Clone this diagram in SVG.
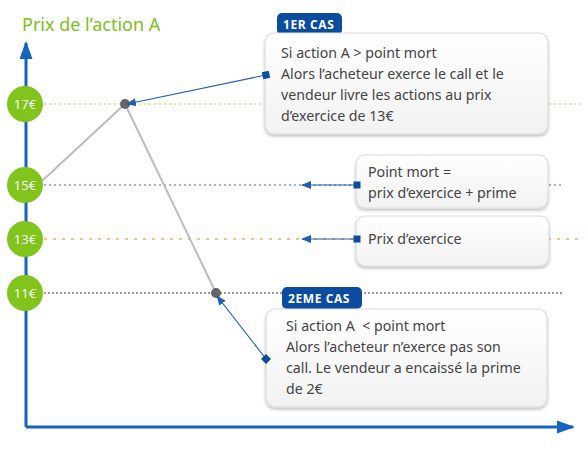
<svg xmlns="http://www.w3.org/2000/svg" width="586" height="455" viewBox="0 0 586 455">
  <style>
    .txt { font-family: "Noto Sans", "Open Sans", sans-serif; font-size: 14.2px; fill: #444; }
    .tab { fill: #0b4c9e; }
    .tabtxt { font-family: "Open Sans", "Noto Sans", sans-serif; font-size: 12px; font-weight: bold; fill: #fff; letter-spacing: 0.6px; }
    .box { fill: url(#boxfill); stroke: #dcdcdc; stroke-width: 1.2; filter: url(#shadow); }
    .lvl { fill: #80c41c; }
    .lvltxt { font-family: "Open Sans", "Noto Sans", sans-serif; font-size: 13px; fill: #fff; text-anchor: middle; }
    .conn { stroke: #1f5fb0; stroke-width: 1.2; fill: none; }
    .curve { stroke: #bdbdbd; stroke-width: 2; fill: none; }
  </style>
  <defs>
    <linearGradient id="boxfill" x1="0" y1="0" x2="0" y2="1">
      <stop offset="0" stop-color="#ffffff"/>
      <stop offset="1" stop-color="#f2f2f2"/>
    </linearGradient>
    <filter id="shadow" x="-5%" y="-10%" width="110%" height="125%">
      <feGaussianBlur in="SourceAlpha" stdDeviation="1.5"/>
      <feOffset dx="0" dy="1.5" result="b"/>
      <feComponentTransfer><feFuncA type="linear" slope="0.25"/></feComponentTransfer>
      <feMerge><feMergeNode/><feMergeNode in="SourceGraphic"/></feMerge>
    </filter>
    <marker id="tip" markerWidth="10" markerHeight="8" refX="9" refY="4" orient="auto" markerUnits="userSpaceOnUse">
      <path d="M0,0 L10,4 L0,8 z" fill="#1f5fb0"/>
    </marker>
    <marker id="sq" markerWidth="8" markerHeight="8" refX="4" refY="4" orient="auto" markerUnits="userSpaceOnUse">
      <rect x="0.5" y="0.5" width="7" height="7" fill="#0b4c9e"/>
    </marker>
    <marker id="dia" markerWidth="10" markerHeight="10" refX="5" refY="5" orient="0" markerUnits="userSpaceOnUse">
      <path d="M5,0 L10,5 L5,10 L0,5 z" fill="#0b4c9e"/>
    </marker>
    <marker id="axisTip" markerWidth="18" markerHeight="13" refX="16" refY="6.5" orient="auto" markerUnits="userSpaceOnUse">
      <path d="M0,0 L18,6.5 L0,13 z" fill="#1565c0"/>
    </marker>
  </defs>

  <!-- axis title -->
  <text x="22" y="31" font-family="'Noto Sans', 'Open Sans', sans-serif" font-size="18" fill="#7cc11c">Prix de l’action A</text>

  <!-- price level guide lines -->
  <g id="guides" stroke-width="2" fill="none">
    <line x1="44" y1="104" x2="582" y2="104" stroke="#d6e89a" stroke-dasharray="2 3"/>
    <line x1="44" y1="185" x2="564" y2="185" stroke="#9bb8d6" stroke-dasharray="2 3"/>
    <line x1="44" y1="239" x2="578" y2="239" stroke="#f7c27a" stroke-dasharray="3 6"/>
    <line x1="44" y1="293" x2="564" y2="293" stroke="#9a9a9a" stroke-dasharray="2 2"/>
  </g>

  <!-- axes -->
  <g id="axes" stroke="#1565c0" stroke-width="3" fill="none">
    <line x1="26" y1="427" x2="26" y2="43" marker-end="url(#axisTip)"/>
    <polyline points="26,427 573,427" marker-end="url(#axisTip)"/>
  </g>

  <!-- price path -->
  <g id="path">
    <polyline class="curve" points="42,181 125,104 216,293"/>
    <circle cx="125" cy="104" r="5" fill="#666"/>
    <circle cx="216" cy="293" r="5" fill="#666"/>
  </g>

  <!-- price level markers -->
  <g id="lvl17"><circle class="lvl" cx="25" cy="104" r="18"/><text class="lvltxt" x="25" y="108.5">17€</text></g>
  <g id="lvl15"><circle class="lvl" cx="25" cy="185" r="18"/><text class="lvltxt" x="25" y="189.5">15€</text></g>
  <g id="lvl13"><circle class="lvl" cx="25" cy="239" r="18"/><text class="lvltxt" x="25" y="243.5">13€</text></g>
  <g id="lvl11"><circle class="lvl" cx="25" cy="293" r="18"/><text class="lvltxt" x="25" y="297.5">11€</text></g>

  <!-- case 1 -->
  <g id="case1">
    <rect class="tab" x="277" y="13" width="65" height="22" rx="5"/>
    <text class="tabtxt" x="283" y="29">1ER CAS</text>
    <rect class="box" x="265" y="33" width="283" height="101" rx="9"/>
    <text class="txt" x="281" y="58">Si action A &gt; point mort</text>
    <text class="txt" x="281" y="79">Alors l’acheteur exerce le call et le</text>
    <text class="txt" x="281" y="100">vendeur livre les actions au prix</text>
    <text class="txt" x="281" y="121">d’exercice de 13€</text>
  </g>

  <!-- break-even box -->
  <g id="breakeven">
    <rect class="box" x="356" y="155" width="192" height="53" rx="9"/>
    <text class="txt" x="368" y="177">Point mort =</text>
    <text class="txt" x="368" y="198">prix d’exercice + prime</text>
  </g>

  <!-- strike box -->
  <g id="strike">
    <rect class="box" x="356" y="216" width="193" height="50" rx="9"/>
    <text class="txt" x="368" y="244">Prix d’exercice</text>
  </g>

  <!-- case 2 -->
  <g id="case2">
    <rect class="tab" x="282" y="287" width="80" height="22" rx="5"/>
    <text class="tabtxt" x="288" y="303">2EME CAS</text>
    <rect class="box" x="266" y="309" width="281" height="98" rx="9"/>
    <text class="txt" x="286" y="331">Si action A&#160; &lt; point mort</text>
    <text class="txt" x="286" y="352">Alors l’acheteur n’exerce pas son</text>
    <text class="txt" x="286" y="373">call. Le vendeur a encaissé la prime</text>
    <text class="txt" x="286" y="394">de 2€</text>
  </g>

  <!-- connectors, drawn over the box edges -->
  <g id="connectors">
    <line class="conn" x1="266" y1="75" x2="127" y2="104" marker-start="url(#sq)" marker-end="url(#tip)"/>
    <line class="conn" x1="357" y1="185" x2="302" y2="185" marker-start="url(#sq)" marker-end="url(#tip)"/>
    <line class="conn" x1="357" y1="239" x2="302" y2="239" marker-start="url(#sq)" marker-end="url(#tip)"/>
    <line class="conn" x1="266" y1="359" x2="217" y2="296" marker-start="url(#dia)" marker-end="url(#tip)"/>
  </g>
</svg>
